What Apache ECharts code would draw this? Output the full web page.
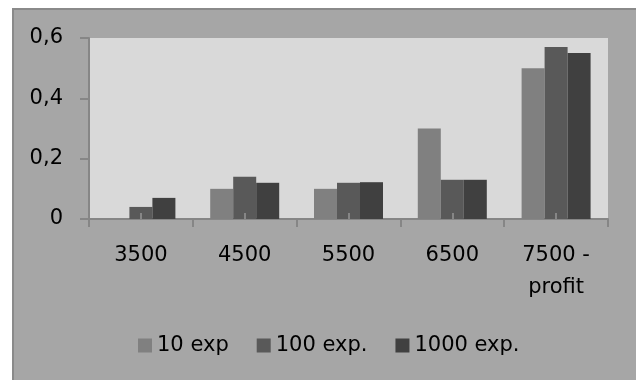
<!DOCTYPE html>
<html>
<head>
<meta charset="utf-8">
<script src="https://cdn.jsdelivr.net/npm/echarts@6/dist/echarts.min.js"></script>
<style>
  html, body { margin: 0; padding: 0; background: #ffffff; }
  #chart { width: 636px; height: 380px; }
</style>
</head>
<body>
<div id="chart"></div>
<script>
// Categories and per-series values
const categories = ['3500', '4500', '5500', '6500', '7500 -\nprofit'];
const exp10 = [0, 0.10, 0.10, 0.30, 0.50];
const exp100 = [0.04, 0.14, 0.12, 0.13, 0.57];
const exp1000 = [0.07, 0.12, 0.122, 0.13, 0.55];
const seriesNames = ['10 exp', '100 exp.', '1000 exp.'];
const yTicks = { min: 0, max: 0.6, interval: 0.2 };

const FONT = 'DejaVu Sans';
const chart = echarts.init(document.getElementById('chart'));

const barStyle = (color) => ({
  type: 'bar',
  barWidth: 23,
  barGap: '0%',
  itemStyle: { color: color, borderWidth: 0 },
  emphasis: { disabled: true }
});

chart.setOption({
  animation: false,
  backgroundColor: '#ffffff',
  textStyle: { fontFamily: FONT },
  graphic: [{
    type: 'rect',
    z: -100,
    shape: { x: 13, y: 9, width: 640, height: 400 },
    style: { fill: '#a6a6a6', stroke: '#8a8a8a', lineWidth: 2 }
  }],
  grid: {
    left: 89, right: 28, top: 38, bottom: 161,
    show: true, backgroundColor: '#d9d9d9', borderWidth: 0
  },
  legend: {
    left: 133, top: 330,
    itemWidth: 14, itemHeight: 14, itemGap: 28,
    icon: 'rect',
    textStyle: { fontFamily: FONT, fontSize: 21, color: '#000000' },
    data: seriesNames
  },
  xAxis: [{
    type: 'category',
    data: categories,
    axisLine: { lineStyle: { color: '#868686', width: 2 } },
    axisTick: { show: true, length: 8, lineStyle: { color: '#868686', width: 2 } },
    axisLabel: {
      fontFamily: FONT, fontSize: 21, color: '#000000',
      margin: 21, lineHeight: 32, align: 'center', interval: 0
    },
    splitLine: { show: false }
  }, {
    // short inward marks at each category centre
    type: 'category',
    data: categories,
    position: 'bottom',
    z: 5,
    axisLine: { show: false },
    axisTick: { show: true, inside: true, alignWithLabel: true, length: 6, lineStyle: { color: '#868686', width: 2 } },
    axisLabel: { show: false },
    splitLine: { show: false }
  }],
  yAxis: {
    type: 'value',
    min: yTicks.min, max: yTicks.max, interval: yTicks.interval,
    axisLine: { show: true, lineStyle: { color: '#868686', width: 2 } },
    axisTick: { show: true, length: 9, lineStyle: { color: '#868686', width: 2 } },
    axisLabel: {
      fontFamily: FONT, fontSize: 21, color: '#000000', margin: 26,
      formatter: (v) => (Math.round(v * 10) / 10).toString().replace('.', ',')
    },
    splitLine: { show: false }
  },
  series: [
    Object.assign(barStyle('#808080'), { name: seriesNames[0], data: exp10 }),
    Object.assign(barStyle('#595959'), { name: seriesNames[1], data: exp100 }),
    Object.assign(barStyle('#404040'), { name: seriesNames[2], data: exp1000 })
  ]
});
</script>
</body>
</html>
